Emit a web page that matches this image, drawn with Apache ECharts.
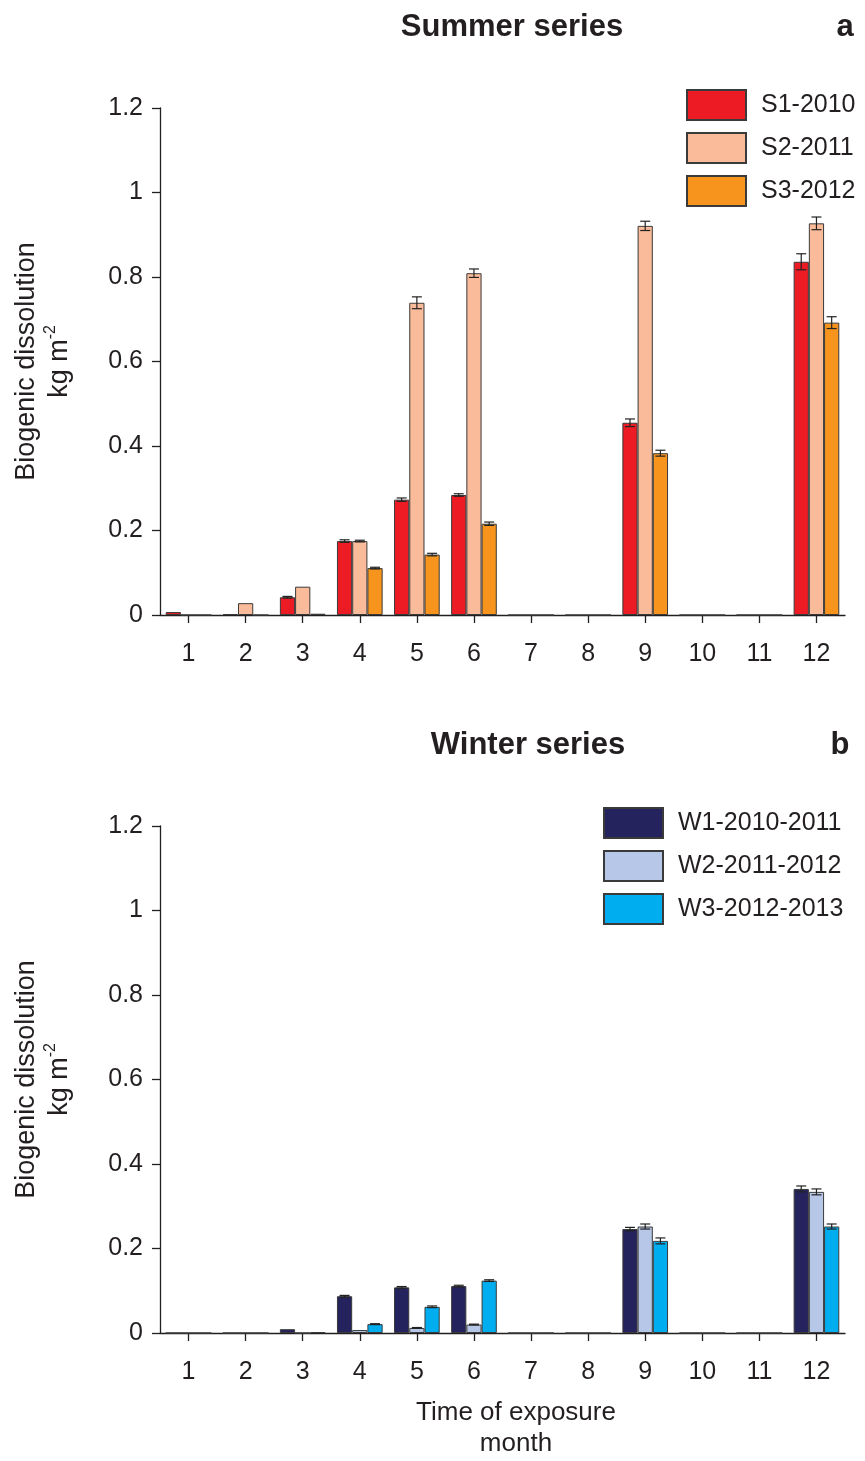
<!DOCTYPE html>
<html>
<head>
<meta charset="utf-8">
<script src="https://cdn.jsdelivr.net/npm/echarts@6/dist/echarts.min.js"></script>
<style>html,body{margin:0;padding:0;background:#fff}#c{width:865px;height:1461px}</style>
</head>
<body>
<div id="c"></div>
<script>
const months = ['1','2','3','4','5','6','7','8','9','10','11','12'];
const yTicks = [0, 0.2, 0.4, 0.6, 0.8, 1, 1.2];
const summerNames = ['S1-2010', 'S2-2011', 'S3-2012'];
const winterNames = ['W1-2010-2011', 'W2-2011-2012', 'W3-2012-2013'];
// Summer values per month (months 7, 8, 10, 11 empty)
const s1 = [0.007, 0.002, 0.042, 0.175, 0.273, 0.284, 0, 0, 0.455, 0, 0, 0.836];
const s2 = [0, 0.028, 0.067, 0.175, 0.739, 0.809, 0, 0, 0.921, 0, 0, 0.927];
const s3 = [0, 0, 0.003, 0.111, 0.143, 0.216, 0, 0, 0.383, 0, 0, 0.692];
const s1Err = [0, 0, 0.002, 0.003, 0.004, 0.003, 0, 0, 0.009, 0, 0, 0.019];
const s2Err = [0, 0, 0, 0.002, 0.014, 0.010, 0, 0, 0.011, 0, 0, 0.015];
const s3Err = [0, 0, 0, 0.002, 0.003, 0.004, 0, 0, 0.007, 0, 0, 0.014];
// Winter values per month
const w1 = [0, 0, 0.009, 0.087, 0.108, 0.111, 0, 0, 0.246, 0, 0, 0.341];
const w2 = [0, 0, 0, 0.007, 0.012, 0.020, 0, 0, 0.252, 0, 0, 0.334];
const w3 = [0, 0, 0.002, 0.021, 0.062, 0.124, 0, 0, 0.218, 0, 0, 0.252];
const w1Err = [0, 0, 0, 0.002, 0.002, 0.002, 0, 0, 0.004, 0, 0, 0.007];
const w2Err = [0, 0, 0, 0, 0.001, 0.001, 0, 0, 0.006, 0, 0, 0.007];
const w3Err = [0, 0, 0, 0.001, 0.002, 0.002, 0, 0, 0.007, 0, 0, 0.006];

const summerColors = ['#ED1C24', '#F9BB99', '#F7941D'];
const winterColors = ['#25235E', '#B7C7E7', '#00AEEF'];
const FONT = 'Liberation Sans, Arial, sans-serif';
const TXT = '#231F20';
const FS = 25;

const chart = echarts.init(document.getElementById('c'), null, {renderer: 'canvas'});

function yAxisDef(gi) {
  return {
    type: 'value', gridIndex: gi, min: 0, max: 1.2, interval: 0.2,
    axisLine: {show: true, lineStyle: {color: TXT, width: 1.3}},
    axisTick: {show: true, length: 8, lineStyle: {color: TXT, width: 1.3}},
    splitLine: {show: false},
    axisLabel: {fontSize: FS, color: TXT, fontFamily: FONT, margin: 17,
      formatter: v => { const t = yTicks.find(x => Math.abs(x - v) < 1e-9); return t === undefined ? '' : String(t); }},
    name: 'Biogenic dissolution\nkg m{sup|-2}',
    nameLocation: 'middle', nameRotate: 90, nameGap: 84,
    nameTextStyle: {fontSize: 27, color: TXT, fontFamily: FONT, lineHeight: 33,
      rich: {sup: {fontSize: 16, verticalAlign: 'top', color: TXT, fontFamily: FONT, lineHeight: 33, padding: [0,0,12,0]}}}
  };
}
function xAxisDef(gi, withName) {
  const a = {
    type: 'category', gridIndex: gi, data: months, boundaryGap: true,
    axisLine: {show: true, lineStyle: {color: TXT, width: 1.3}},
    axisTick: {show: true, alignWithLabel: true, length: 8, lineStyle: {color: TXT, width: 1.3}},
    axisLabel: {fontSize: FS, color: TXT, fontFamily: FONT, margin: 27, interval: 0},
    splitLine: {show: false}
  };
  if (withName) {
    a.name = 'Time of exposure\nmonth';
    a.nameLocation = 'middle';
    a.nameGap = 64;
    a.nameTextStyle = {fontSize: 26, color: TXT, fontFamily: FONT, lineHeight: 31, padding: [0, 0, 0, 27]};
  }
  return a;
}

function barSeries(name, data, color, gi) {
  return {
    name, type: 'bar', data, xAxisIndex: gi, yAxisIndex: gi,
    barGap: '0%', barCategoryGap: '20%',
    itemStyle: {color, borderColor: '#3a3a3a', borderWidth: 1},
    emphasis: {disabled: true}, animation: false, z: 2
  };
}
function errSeries(vals, errs, idx, gi) {
  return {
    type: 'custom', xAxisIndex: gi, yAxisIndex: gi, z: 4, animation: false, silent: true,
    data: vals.map((v, i) => [i, v, errs[i]]),
    renderItem: (params, api) => {
      const x = api.value(0), y = api.value(1), e = api.value(2);
      if (!(e > 0)) return null;
      const band = api.size([1, 0])[0];
      const bw = band * 0.8 / 3;
      const c = api.coord([x, y]);
      const cx = c[0] + (idx - 1) * bw;
      const top = api.coord([x, y + e])[1];
      const bot = api.coord([x, y - e])[1];
      const cap = 5;
      const st = {stroke: '#222', lineWidth: 1.2};
      return {type: 'group', children: [
        {type: 'line', shape: {x1: cx, y1: top, x2: cx, y2: bot}, style: st},
        {type: 'line', shape: {x1: cx - cap, y1: top, x2: cx + cap, y2: top}, style: st},
        {type: 'line', shape: {x1: cx - cap, y1: bot, x2: cx + cap, y2: bot}, style: st}
      ]};
    }
  };
}

const titleStyle = {fontSize: 31, fontWeight: 'bold', color: TXT, fontFamily: FONT};
const legendText = {fontSize: FS, color: TXT, fontFamily: FONT, padding: [0, 0, 0, 10]};

chart.setOption({
  animation: false,
  backgroundColor: '#fff',
  title: [
    {text: 'Summer series', left: 507, top: 7, textAlign: 'center', textStyle: titleStyle},
    {text: 'a', left: 840, top: 7, textAlign: 'center', textStyle: titleStyle},
    {text: 'Winter series', left: 523, top: 725, textAlign: 'center', textStyle: titleStyle},
    {text: 'b', left: 835, top: 725, textAlign: 'center', textStyle: titleStyle}
  ],
  legend: [
    {data: summerNames, orient: 'vertical', left: 686, top: 89, itemWidth: 59, itemHeight: 30, itemGap: 11,
     icon: 'rect', textStyle: legendText, selectedMode: false, padding: 0},
    {data: winterNames, orient: 'vertical', left: 603, top: 807, itemWidth: 59, itemHeight: 30, itemGap: 11,
     icon: 'rect', textStyle: legendText, selectedMode: false, padding: 0}
  ],
  grid: [
    {left: 160, right: 20, top: 108, height: 507, outerBoundsMode: 'none', containLabel: false},
    {left: 160, right: 20, top: 826, height: 507, outerBoundsMode: 'none', containLabel: false}
  ],
  xAxis: [xAxisDef(0, false), xAxisDef(1, true)],
  yAxis: [yAxisDef(0), yAxisDef(1)],
  series: [
    barSeries(summerNames[0], s1, summerColors[0], 0),
    barSeries(summerNames[1], s2, summerColors[1], 0),
    barSeries(summerNames[2], s3, summerColors[2], 0),
    barSeries(winterNames[0], w1, winterColors[0], 1),
    barSeries(winterNames[1], w2, winterColors[1], 1),
    barSeries(winterNames[2], w3, winterColors[2], 1),
    errSeries(s1, s1Err, 0, 0), errSeries(s2, s2Err, 1, 0), errSeries(s3, s3Err, 2, 0),
    errSeries(w1, w1Err, 0, 1), errSeries(w2, w2Err, 1, 1), errSeries(w3, w3Err, 2, 1)
  ]
});
</script>
</body>
</html>
